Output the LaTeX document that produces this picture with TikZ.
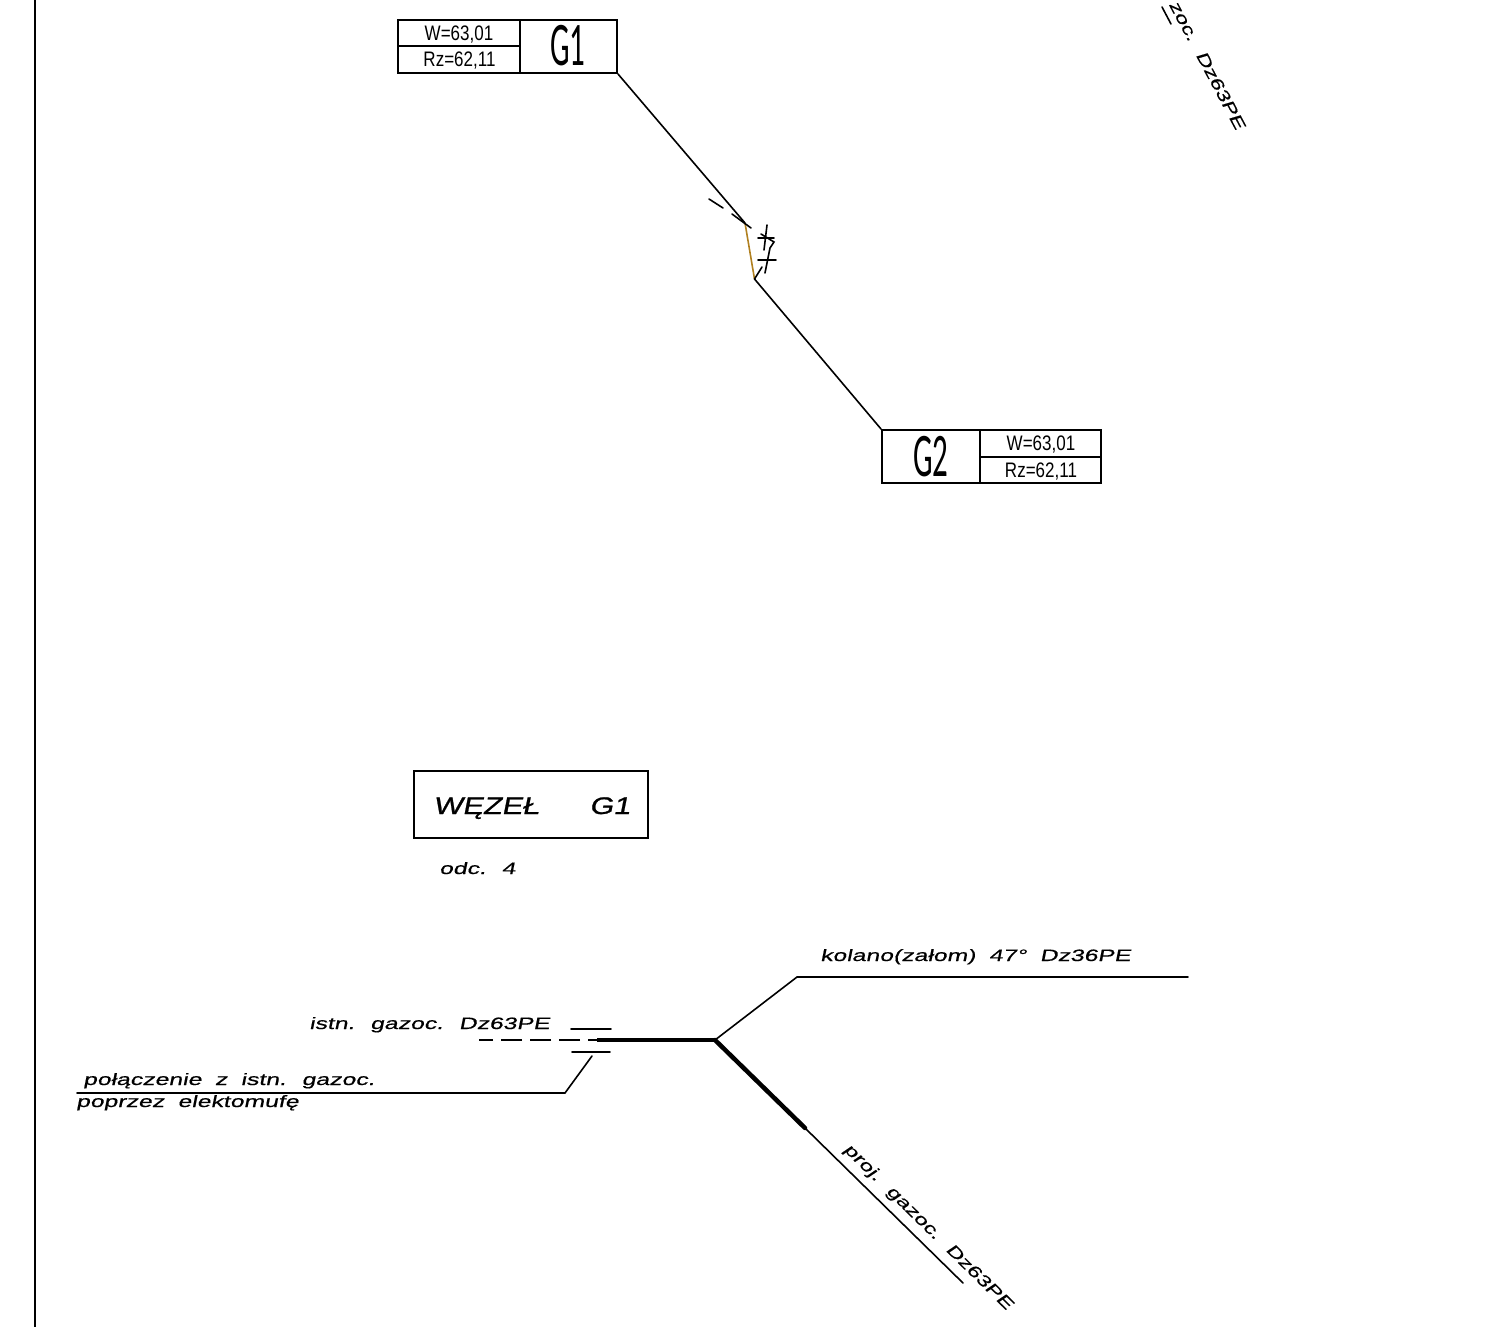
\documentclass[tikz,border=0pt]{standalone}
\usepackage{fontspec}
\setmainfont{Liberation Sans}
\newfontfamily\cadit[FakeStretch=1.5,FakeSlant=0.2,WordSpace=1.95,FakeBold=0.5]{Liberation Sans}
\newfontfamily\cadrot[FakeStretch=1.42,FakeSlant=0.2,WordSpace=1.85,FakeBold=0.5]{Liberation Sans}
\newfontfamily\cadtitle[FakeStretch=1.28,FakeSlant=0.2,FakeBold=1]{Liberation Sans}
\newfontfamily\cadnarrow[FakeStretch=0.81]{Liberation Sans}
\newfontfamily\cadtall[FakeStretch=0.5]{Carlito}
\definecolor{pipebrown}{RGB}{176,128,32}
\tikzset{
  x=1pt,y=-1pt,
  cell/.style={draw=black,line width=1.8pt,rectangle,inner sep=0pt,minimum width=#1},
  wire/.style={line width=1.6pt,line cap=round,black},
  heavy/.style={line width=4.5pt,black},
  small/.style={inner sep=0pt,anchor=base west,font=\cadit\fontsize{16.5}{18}\selectfont},
  smallrot/.style={inner sep=0pt,font=\cadrot\fontsize{16.5}{18}\selectfont},
  level/.style={inner sep=0pt,anchor=center,font=\cadnarrow\fontsize{21}{22}\selectfont},
  tag/.style={inner sep=0pt,anchor=center,font=\cadtall\fontsize{62}{64}\selectfont},
}
\begin{document}
\begin{tikzpicture}
\useasboundingbox (0,0) rectangle (1510,1327);
\clip (0,0) rectangle (1510,1327);
% margin
\coordinate (mtop) at (35,0);
\coordinate (mbot) at (35,1327);
\draw[line width=1.2pt] (mtop) -- (mbot);

% G1 box
\node[cell=122pt,minimum height=26.5pt] (g1w) at (459,33) {};
\node[cell=122pt,minimum height=26.5pt] (g1r) at (459,59.5) {};
\node[cell=97pt,minimum height=53pt] (g1t) at (568.5,46.5) {};
\node[level] (g1wt) at (459,34.5) {W=63,01};
\node[level] (g1rt) at (459.5,61) {Rz=62,11};
\node[tag] (g1tt) at (568,46) {G1};

% G2 box
\node[cell=98pt,minimum height=53pt] (g2t) at (931,456.5) {};
\node[cell=121pt,minimum height=26.5pt] (g2w) at (1040.5,443.5) {};
\node[cell=121pt,minimum height=26.5pt] (g2r) at (1040.5,470) {};
\node[level] (g2wt) at (1041,445) {W=63,01};
\node[level] (g2rt) at (1041,471.5) {Rz=62,11};
\node[tag] (g2tt) at (931,457) {G2};

% route between the boxes
\coordinate (k1) at (745,223);
\coordinate (k2) at (754.5,279);
\draw[wire] (g1t.south east) -- (k1);
\draw[line width=1.6pt,pipebrown] (k1) -- (k2);
\draw[wire] (k2) -- (g2t.north west);

% small marks on the route
\coordinate (a1) at (709,199); \coordinate (a2) at (723,208);
\coordinate (b1) at (732,214); \coordinate (b2) at (751,228);
\coordinate (c1) at (754.5,279); \coordinate (c2) at (762,267);
\coordinate (d1) at (767,225); \coordinate (d2) at (764,250);
\coordinate (e1) at (761,234); \coordinate (e2) at (774,242); \coordinate (e3) at (770,248); \coordinate (e4) at (765,273);
\coordinate (f1) at (758,238); \coordinate (f2) at (774,238);
\coordinate (h1) at (758,260); \coordinate (h2) at (776,260);
\draw[wire] (a1) -- (a2);
\draw[wire] (b1) -- (b2);
\draw[wire] (c1) -- (c2);
\draw[wire] (d1) -- (d2);
\draw[wire] (e1) -- (e2) -- (e3) -- (e4);
\draw[wire] (f1) -- (f2);
\draw[wire] (h1) -- (h2);

% top-right label
\coordinate (t1) at (1162,7); \coordinate (t2) at (1171,24);
\draw[wire] (t1) -- (t2);
\node[smallrot,anchor=base east,rotate=-62] (topl) at (1236,131) {zoc. Dz63PE};

% title
\node[draw=black,line width=1.8pt,rectangle,inner sep=0pt,minimum width=234pt,minimum height=67pt] (title) at (531,804.5) {};
\node[inner sep=0pt,anchor=base west,font=\cadtitle\fontsize{24}{26}\selectfont] (wezel) at (433,814) {WĘZEŁ};
\node[inner sep=0pt,anchor=base west,font=\cadtitle\fontsize{24}{26}\selectfont] (g1n) at (589,814) {G1};
\node[small] (odc) at (439,874) {odc. 4};

% junction
\coordinate (j) at (715,1040);
\coordinate (w0) at (597,1040);
\coordinate (we) at (479,1040);
\coordinate (h0) at (797,977);
\coordinate (h1e) at (1188,977);
\coordinate (m) at (805,1128);
\coordinate (me) at (963,1283);
\draw[wire] (h1e) -- (h0) -- (j);
\draw[heavy] (w0) -- (j);
\draw[heavy,line cap=round] (j) -- (m);
\draw[wire] (m) -- (me);
\draw[line width=2pt,dash pattern=on 21pt off 8pt,dash phase=12pt] (w0) -- (we);

\coordinate (s1) at (571,1029); \coordinate (s2) at (611,1029);
\coordinate (s3) at (572,1052); \coordinate (s4) at (610,1052);
\draw[wire] (s1) -- (s2);
\draw[wire] (s3) -- (s4);

\coordinate (l1) at (592,1056);
\coordinate (l2) at (565,1093);
\coordinate (l3) at (77,1093);
\draw[wire] (l1) -- (l2) -- (l3);

\node[small] (kol) at (820,961) {kolano(załom) 47° Dz36PE};
\node[small] (ist) at (309,1029) {istn. gazoc. Dz63PE};
\node[small] (pol) at (83,1085) {połączenie z istn. gazoc.};
\node[small] (pop) at (76,1107) {poprzez elektomufę};
\node[smallrot,anchor=base west,rotate=-44.5] (proj) at (843,1150) {proj. gazoc. Dz63PE};
\end{tikzpicture}
\end{document}
